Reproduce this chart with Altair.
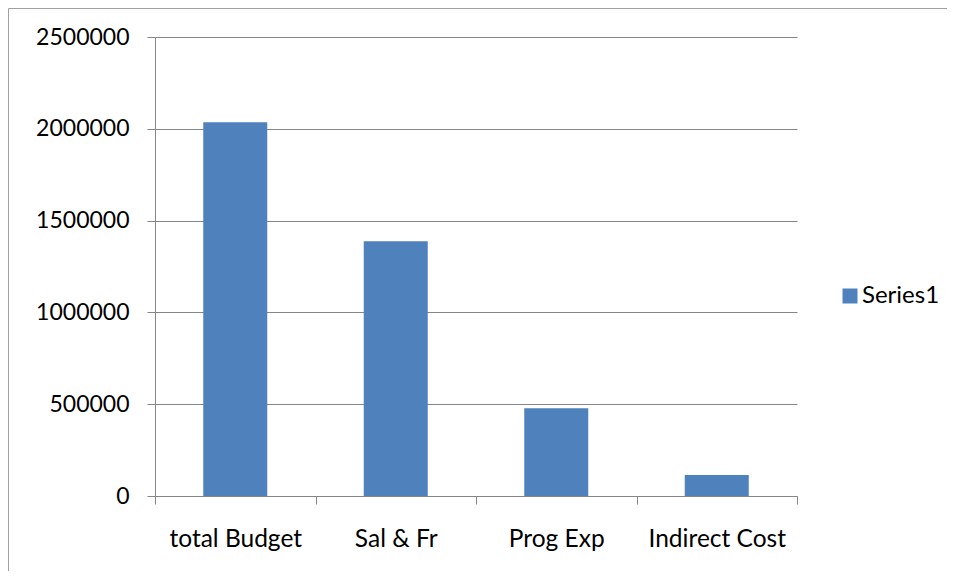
import altair as alt
import pandas as pd

categories = ["total Budget", "Sal & Fr", "Prog Exp", "Indirect Cost"]
values = [2035000, 1387000, 478000, 114000]
series = ["Series1"] * 4
y_ticks = [0, 500000, 1000000, 1500000, 2000000, 2500000]

df = pd.DataFrame({"category": categories, "value": values, "series": series})

FONT = "Lato"
GREY = "#868686"

bars = alt.Chart(df).mark_bar(size=64, color="#4F81BD").encode(
    x=alt.X("category:N", sort=categories, title=None,
            scale=alt.Scale(paddingInner=0, paddingOuter=0),
            axis=alt.Axis(labelAngle=0, tickBand="extent", tickSize=8,
                          labelPadding=23, domainColor=GREY, tickColor=GREY,
                          labelFont=FONT, labelFontSize=24.5, labelColor="black",
                          grid=False)),
    y=alt.Y("value:Q", title=None,
            scale=alt.Scale(domain=[0, 2500000], nice=False),
            axis=alt.Axis(values=y_ticks, format="d", tickSize=8, labelPadding=18,
                          domainColor=GREY, tickColor=GREY, gridColor=GREY,
                          labelFont=FONT, labelFontSize=23, labelColor="black")),
    color=alt.Color("series:N", title=None,
                    scale=alt.Scale(range=["#4F81BD"]),
                    legend=alt.Legend(orient="none", legendX=683, legendY=247,
                                      symbolType="square", symbolSize=225,
                                      symbolStrokeWidth=0, labelOffset=0,
                                      labelFont=FONT, labelFontSize=24,
                                      labelColor="black")),
)

frame = alt.Data(values=[{"a": 1}])
border_top = alt.Chart(frame).mark_rule(stroke="#A0A0A0", strokeWidth=1).encode(
    x=alt.value(-146.5), x2=alt.value(800), y=alt.value(-28.5),
)
border_left = alt.Chart(frame).mark_rule(stroke="#A0A0A0", strokeWidth=1).encode(
    x=alt.value(-146.5), y=alt.value(-28.5), y2=alt.value(540),
)

chart = alt.layer(border_top, border_left, bars).properties(
    width=642, height=459,
    autosize=alt.AutoSizeParams(type="none"),
    padding={"left": 147, "top": 29, "right": 150, "bottom": 75},
).configure_view(stroke=None)

chart.save("out.html", embed_options={"renderer": "svg", "actions": False})
